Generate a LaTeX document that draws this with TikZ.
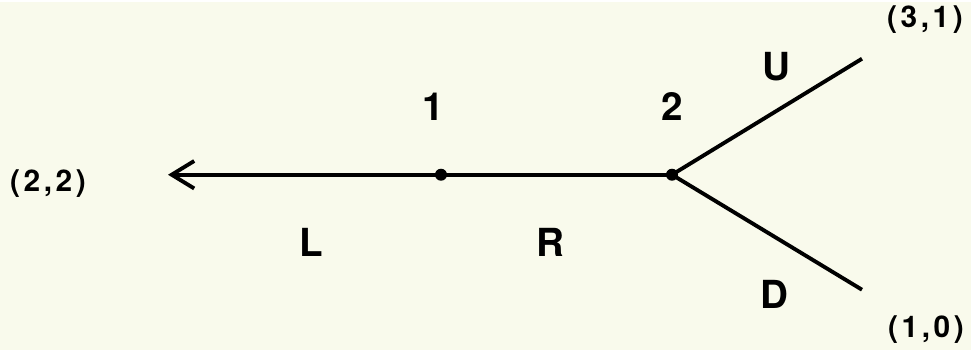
\documentclass[tikz,border=0pt]{standalone}
\usepackage{fontspec}
\setmainfont{TeX Gyre Heros}
\usetikzlibrary{arrows.meta}
\definecolor{paper}{RGB}{249,250,236}
\begin{document}
\begin{tikzpicture}[every node/.style={font=\bfseries\fontsize{22}{24}\selectfont}, pay/.style={font=\bfseries\fontsize{17}{19}\selectfont\addfontfeatures{LetterSpace=12}}, line width=2.2pt]
  \fill[paper] (0,0) rectangle (19.42,6.96);
  \coordinate (end) at (3.36,3.5);
  \coordinate (up) at (17.24,5.82);
  \coordinate (dn) at (17.24,1.2);
  \fill (8.82,3.5) coordinate (n1) circle (0.12);
  \fill (13.44,3.5) coordinate (n2) circle (0.12);
  \draw[-{Straight Barb[length=0.45cm,width=0.55cm]}] (n1) -- (end);
  \draw (n1) -- (n2);
  \draw (n2) -- (up);
  \draw (n2) -- (dn);
  \node (l1) at (8.66,4.86) {1};
  \node (l2) at (13.44,4.86) {2};
  \node (mu) at (15.52,5.66) {U};
  \node (md) at (15.48,1.1) {D};
  \node (ml) at (6.22,2.14) {L};
  \node (mr) at (11.0,2.14) {R};
  \node[pay] (p22) at (0.96,3.32) {(2,2)};
  \node[pay] (p31) at (18.5,6.6) {(3,1)};
  \node[pay] (p10) at (18.52,0.4) {(1,0)};
\end{tikzpicture}
\end{document}
